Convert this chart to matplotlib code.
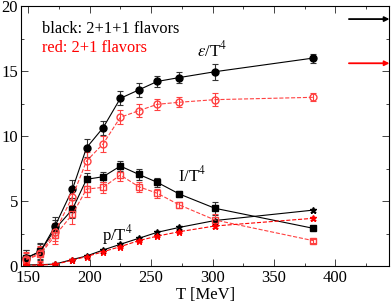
import matplotlib
matplotlib.use("Agg")
import matplotlib.pyplot as plt
from matplotlib.ticker import MultipleLocator

plt.rcParams["font.family"] = ["Liberation Serif", "DejaVu Serif"]
plt.rcParams["mathtext.fontset"] = "stix"

# ------------------------ #
# DATA
# ------------------------ #

T = [148.5, 160, 172, 186, 197.5, 211, 225, 240, 255, 273, 302, 382]

# black: 2+1+1 flavors
e_b = [0.64, 1.1, 3.1, 5.9, 9.1, 10.64, 12.9, 13.55, 14.2, 14.5, 14.95, 16.0]
e_b_err = [0.6, 0.6, 0.7, 0.7, 0.7, 0.55, 0.55, 0.55, 0.4, 0.4, 0.6, 0.35]
I_b = [0.6, 1.15, 2.85, 4.36, 6.67, 6.87, 7.69, 7.05, 6.44, 5.54, 4.44, 2.9]
I_b_err = [0.6, 0.6, 0.7, 0.7, 0.5, 0.4, 0.4, 0.4, 0.35, 0.2, 0.5, 0.15]
p_b = [0.08, 0.1, 0.15, 0.5, 0.77, 1.23, 1.67, 2.13, 2.59, 2.97, 3.5, 4.3]
p_b_err = [0.05, 0.05, 0.05, 0.06, 0.08, 0.08, 0.1, 0.1, 0.1, 0.1, 0.12, 0.12]

# red: 2+1 flavors
e_r = [0.55, 0.97, 2.64, 5.33, 8.08, 9.4, 11.44, 11.95, 12.44, 12.6, 12.8, 12.98]
e_r_err = [0.5, 0.6, 0.7, 0.7, 0.7, 0.6, 0.55, 0.5, 0.4, 0.4, 0.5, 0.3]
I_r = [0.5, 0.9, 2.36, 3.97, 5.92, 6.05, 7.0, 6.1, 5.6, 4.7, 3.54, 1.95]
I_r_err = [0.5, 0.6, 0.7, 0.7, 0.6, 0.4, 0.45, 0.4, 0.35, 0.2, 0.45, 0.15]
p_r = [0.05, 0.08, 0.12, 0.45, 0.73, 1.1, 1.49, 1.95, 2.3, 2.64, 3.08, 3.67]
p_r_err = [0.05, 0.05, 0.05, 0.06, 0.08, 0.08, 0.1, 0.1, 0.1, 0.1, 0.12, 0.12]

# Stefan-Boltzmann limits (arrows at the right edge)
sb_black = 19.0
sb_red = 15.6

# ------------------------ #
# PLOTTING
# ------------------------ #

fig = plt.figure(figsize=(3.92, 3.04), dpi=100)
ax = fig.add_axes([0.053, 0.125, 0.9406, 0.855])

common = dict(capsize=2.5, elinewidth=0.8, capthick=0.8, linewidth=0.8)

ax.errorbar(T, e_b, yerr=e_b_err, color="black", marker="o", markersize=5,
            ecolor="#333333", **common)
ax.errorbar(T, I_b, yerr=I_b_err, color="black", marker="s", markersize=4.5,
            ecolor="#333333", **common)
ax.errorbar(T, p_b, yerr=p_b_err, color="black", marker="*", markersize=5,
            ecolor="#333333", **common)

ax.errorbar(T, e_r, yerr=e_r_err, color="#ff4040", marker="o", markersize=5,
            markerfacecolor="none", linestyle="--", **common)
ax.errorbar(T, I_r, yerr=I_r_err, color="#ff4040", marker="s", markersize=4.5,
            markerfacecolor="none", linestyle="--", **common)
ax.errorbar(T, p_r, yerr=p_r_err, color="red", marker="*", markersize=5,
            linestyle="--", **common)

# arrows for the limits
ax.annotate("", xy=(444, sb_black), xytext=(411, sb_black),
            arrowprops=dict(arrowstyle="-|>", color="black", lw=1.3,
                            mutation_scale=7, shrinkA=0, shrinkB=0))
ax.annotate("", xy=(444, sb_red), xytext=(411, sb_red),
            arrowprops=dict(arrowstyle="-|>", color="red", lw=1.3,
                            mutation_scale=7, shrinkA=0, shrinkB=0))

# labels
ax.text(161, 18.2, "black: 2+1+1 flavors", fontsize=11.8, color="black",
        va="center")
ax.text(161, 16.8, "red: 2+1 flavors", fontsize=11.8, color="red",
        va="center")
ax.text(287, 16.6, r"$\varepsilon$/T$^4$", fontsize=12, va="center")
ax.text(272, 7.0, r"I/T$^4$", fontsize=12, va="center")
ax.text(210, 2.35, r"p/T$^4$", fontsize=12, va="center")

ax.set_xlim(144, 444)
ax.set_ylim(0, 20)
ax.set_xlabel("T [MeV]", fontsize=12, labelpad=0.5)

ax.xaxis.set_major_locator(MultipleLocator(50))
ax.xaxis.set_minor_locator(MultipleLocator(25))
ax.yaxis.set_major_locator(MultipleLocator(5))
ax.yaxis.set_minor_locator(MultipleLocator(2.5))
ax.set_xticks([150, 200, 250, 300, 350, 400])

ax.tick_params(which="both", direction="in", top=True, right=True,
               labelsize=12, width=0.7, color="#444444")
ax.tick_params(which="major", length=5)
ax.tick_params(axis="x", which="major", pad=3)
ax.tick_params(axis="y", which="major", pad=2)
ax.tick_params(which="minor", length=2.5)
for sp in ax.spines.values():
    sp.set_linewidth(0.8)

plt.savefig("out.png", dpi=100)
